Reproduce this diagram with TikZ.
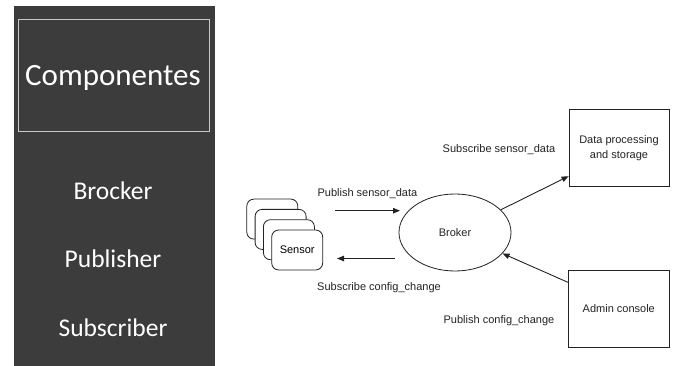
\documentclass[tikz,border=0pt]{standalone}
\usepackage{fontspec}
\setmainfont{Liberation Sans}
\newfontfamily\panelfont{Carlito}
\usetikzlibrary{shapes.geometric,arrows.meta}
\definecolor{panelgray}{HTML}{3C3C3C}
\definecolor{framegray}{HTML}{C8C8C8}
\definecolor{ink}{HTML}{222222}
\begin{document}
\begin{tikzpicture}[x=1pt,y=-1pt,
  paneltext/.style={text=white, font=\panelfont\fontsize{25.5}{30}\selectfont, anchor=base, inner sep=0},
  lbl/.style={text=ink, font=\fontsize{11}{13}\selectfont, anchor=base, inner sep=0},
  sensorbox/.style={draw=ink, fill=white, line width=0.8pt, rounded corners=7pt,
    minimum width=51pt, minimum height=40pt, inner sep=0, font=\fontsize{11}{13}\selectfont},
  plainbox/.style={draw=ink, line width=0.8pt, inner sep=0, align=center, text=ink,
    font=\fontsize{11}{14.3}\selectfont},
  arr/.style={draw=ink, line width=0.9pt, -{Triangle[length=7pt,width=5.5pt]}}]
\useasboundingbox (0,0) rectangle (673,366);

% left panel with the list of components
\fill[panelgray] (14,6) rectangle (215,366);
\node[draw=framegray, line width=1.3pt, minimum width=191pt, minimum height=112pt,
  anchor=north west, inner sep=0] (frame) at (18,19) {};
\node[text=white, font=\panelfont\fontsize{31}{36}\selectfont, anchor=base, inner sep=0]
  (title) at (113,86) {Componentes};
\node[paneltext] (broc) at (113,200) {Brocker};
\node[paneltext] (publ) at (113,268) {Publisher};
\node[paneltext] (subs) at (113,337) {Subscriber};

% stack of sensors
\foreach \i in {3,2,1}
  \node[sensorbox] (sensor\i) at ({297.2-8.3*\i},{250-10.3*\i}) {};
\node[sensorbox] (sensor) at (297.2,250) {Sensor};

% broker and the two clients
\node[draw=ink, ellipse, line width=0.8pt, minimum width=112pt, minimum height=77pt,
  inner sep=0, font=\fontsize{11}{13}\selectfont, text=ink] (broker) at (455,232.5) {Broker};
\node[plainbox, minimum width=100pt, minimum height=77pt] (data) at (619,148.3)
  {Data processing\\and storage};
\node[plainbox, minimum width=101pt, minimum height=76.6pt] (admin) at (618.8,309)
  {Admin console};

% message flows
\coordinate (pubA) at (335,210.7);
\coordinate (pubB) at (400,210.7);
\draw[arr] (pubA) -- (pubB);
\coordinate (subA) at (395,258.5);
\coordinate (subB) at (337,258.5);
\draw[arr] (subA) -- (subB);
\draw[arr] (broker) -- ([yshift=11pt]data.south west);
\draw[arr] ([yshift=-12pt]admin.north west) -- (broker);

% flow labels
\node[lbl] (lpub) at (367.4,196.5) {Publish sensor\_data};
\node[lbl] (lsubc) at (379,290.7) {Subscribe config\_change};
\node[lbl] (lsubs) at (499,153) {Subscribe sensor\_data};
\node[lbl] (lpubc) at (499,323.3) {Publish config\_change};
\end{tikzpicture}
\end{document}
